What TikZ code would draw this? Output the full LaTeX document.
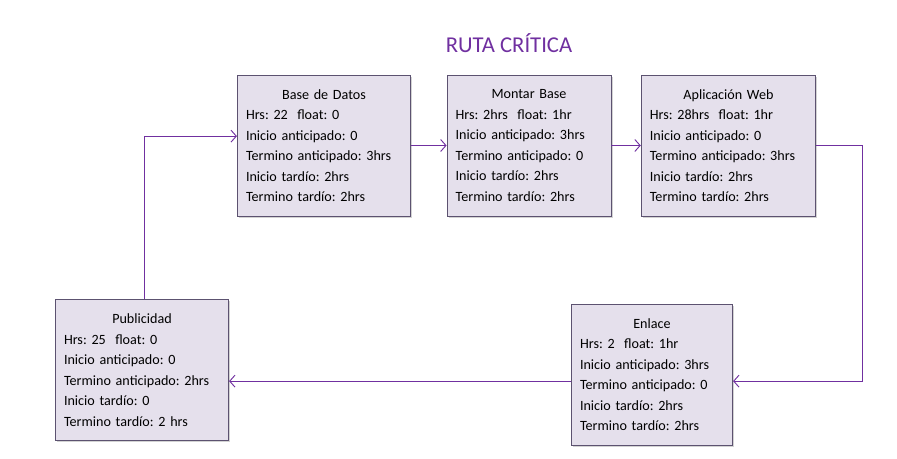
\documentclass[tikz,border=0pt]{standalone}
\usepackage{fontspec}
\setmainfont{Carlito}
\frenchspacing
\usetikzlibrary{arrows.meta,positioning,shadows}
\definecolor{boxcolor}{RGB}{229,224,236}
\definecolor{bordercolor}{RGB}{92,82,112}
\definecolor{arrowcolor}{RGB}{112,48,160}
\definecolor{titlecolor}{RGB}{112,48,160}
\newcommand{\tasktitle}[1]{\makebox[\linewidth]{#1}}
\tikzset{
    task/.style={
        rectangle,
        draw=bordercolor,
        line width=0.6pt,
        fill=boxcolor,
        inner sep=6.5pt,
        minimum height=105.75pt,
        align=left,
        font=\fontsize{10.6}{15.4}\selectfont,
        drop shadow={shadow xshift=1.2pt, shadow yshift=-1.5pt, opacity=0.35}
    },
    arrow/.style={-{Straight Barb[length=4pt,width=9pt]}, line width=0.7pt, color=arrowcolor}
}

\begin{document}
\begin{tikzpicture}[x=0.75pt, y=-0.75pt]
    \useasboundingbox (0,0) rectangle (897,459);
    \node[font=\fontsize{17}{20}\selectfont, text=titlecolor] (title) at (509,43) {RUTA CRÍTICA};

    % Tasks
    \node[task, text width=117pt] (base) at (324,145.5) {\tasktitle{Base de Datos}\\
        Hrs: 22\ \ float: 0\\
        Inicio anticipado: 0\\
        Termino anticipado: 3hrs\\
        Inicio tardío: 2hrs\\
        Termino tardío: 2hrs};
    \node[task, text width=110pt] (montar) at (529,145.5) {\tasktitle{Montar Base}\\
        Hrs: 2hrs\ \ float: 1hr\\
        Inicio anticipado: 3hrs\\
        Termino anticipado: 0\\
        Inicio tardío: 2hrs\\
        Termino tardío: 2hrs};
    \node[task, text width=118pt] (app) at (728.5,145.5) {\tasktitle{Aplicación Web}\\
        Hrs: 28hrs\ \ float: 1hr\\
        Inicio anticipado: 0\\
        Termino anticipado: 3hrs\\
        Inicio tardío: 2hrs\\
        Termino tardío: 2hrs};
    \node[task, text width=108pt] (enlace) at (652,374.5) {\tasktitle{Enlace}\\
        Hrs: 2\ \ float: 1hr\\
        Inicio anticipado: 3hrs\\
        Termino anticipado: 0\\
        Inicio tardío: 2hrs\\
        Termino tardío: 2hrs};
    \node[task, text width=117pt] (pub) at (142,370) {\tasktitle{Publicidad}\\
        Hrs: 25\ \ float: 0\\
        Inicio anticipado: 0\\
        Termino anticipado: 2hrs\\
        Inicio tardío: 0\\
        Termino tardío: 2 hrs};

    % Arrows
    \coordinate (enlin) at ([yshift=-5pt]enlace.east);
    \coordinate (enlout) at ([yshift=-5pt]enlace.west);
    \draw[arrow] ([xshift=2pt]pub.north) |- ([yshift=7pt]base.west);
    \draw[arrow] (base) -- (montar);
    \draw[arrow] (montar) -- (app);
    \draw[arrow] (app.east) -- ++(46,0) |- (enlin);
    \draw[arrow] (enlout) -- (enlout -| pub.east);
\end{tikzpicture}
\end{document}
